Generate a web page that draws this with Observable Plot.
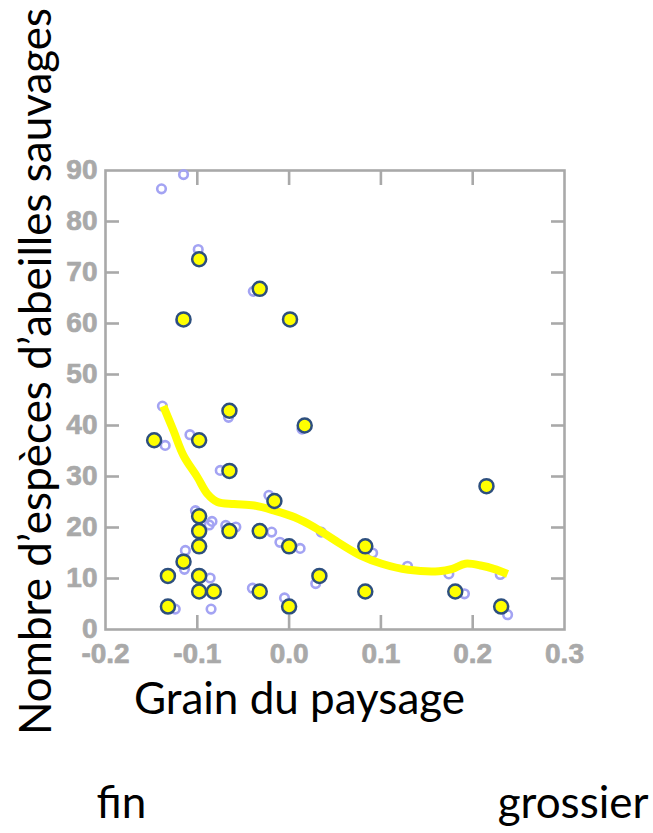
<!DOCTYPE html>
<html>
<head>
<meta charset="utf-8">
<script src="https://cdn.jsdelivr.net/npm/d3@7"></script>
<script src="https://cdn.jsdelivr.net/npm/@observablehq/plot@0.6"></script>
<style>
  body { margin: 0; background: #ffffff; }
  #chart svg { display: block; }
</style>
</head>
<body>
<div id="chart"></div>
<script>
// Highlighted sites (yellow dots)
const yellowGrain   = [-0.147, -0.132, -0.132, -0.115, -0.115, -0.098, -0.098, -0.098, -0.098, -0.098, -0.098, -0.098, -0.082, -0.065, -0.065, -0.065, -0.032, -0.032, -0.032, -0.016, 0.001, 0.000, 0.000, 0.017, 0.033, 0.083, 0.083, 0.181, 0.215, 0.231];
const yellowSpecies = [37.1, 10.5, 4.5, 60.8, 13.3, 72.6, 37.1, 22.2, 19.3, 16.3, 10.5, 7.45, 7.45, 42.9, 31.1, 19.3, 66.8, 19.3, 7.45, 25.2, 60.8, 16.3, 4.5, 40.0, 10.5, 16.3, 7.45, 7.45, 28.1, 4.5];

// Background sites (light blue open circles)
const blueGrain   = [-0.139, -0.115, -0.099, -0.039, -0.118, -0.138, -0.066, 0.014, -0.135, -0.108, -0.075, -0.022, -0.102, -0.084, -0.087, -0.069, -0.058, -0.019, -0.010, 0.012, 0.035, -0.113, -0.114, -0.086, -0.040, -0.005, -0.124, -0.085, 0.029, 0.091, 0.129, 0.174, 0.191, 0.230, 0.238];
const blueSpecies = [86.4, 89.2, 74.5, 66.3, 60.5, 43.8, 41.6, 39.3, 36.1, 38.2, 31.2, 26.3, 23.3, 21.2, 20.5, 20.4, 20.1, 19.1, 17.1, 15.9, 19.1, 15.5, 11.8, 10.1, 8.1, 6.2, 4.0, 4.0, 9.0, 15.0, 12.4, 10.9, 7.0, 10.8, 2.9];

// Smoothed trend (yellow curve)
const trendGrain   = [-0.137, -0.126, -0.115, -0.100, -0.089, -0.078, -0.060, -0.038, -0.016, 0.006, 0.027, 0.056, 0.078, 0.101, 0.130, 0.163, 0.178, 0.192, 0.210, 0.223, 0.238];
const trendSpecies = [43.8, 39.0, 34.1, 29.9, 26.6, 25.0, 24.6, 24.3, 23.3, 22.0, 20.1, 16.8, 14.5, 12.9, 11.7, 11.4, 11.9, 12.9, 12.5, 11.9, 10.9];

// Tick values
const xTickLabels = [-0.2, -0.1, 0.0, 0.1, 0.2, 0.3];
const xTickMarks  = [-0.1, 0.0, 0.1, 0.2];
const yTickLabels = [0, 10, 20, 30, 40, 50, 60, 70, 80, 90];
const yTickMarks  = [10, 20, 30, 40, 50, 60, 70, 80];

// Texts
const yTitle = ["Nombre d’espèces d’abeilles sauvages"];
const xTitle = ["Grain du paysage"];
const leftNote = ["fin"];
const rightNote = ["grossier"];

const yellowPts = yellowGrain.map((g, i) => ({grain: g, species: yellowSpecies[i]}));
const bluePts = blueGrain.map((g, i) => ({grain: g, species: blueSpecies[i]}));
const trend = trendGrain.map((g, i) => ({grain: g, species: trendSpecies[i]}));

const gray = "#a9a9a9";
const titleFont = "Lato";
const tickFont = {fontSize: 28, fontWeight: "bold", fontFamily: "Liberation Sans", fill: gray, stroke: gray, strokeWidth: 0.7};

const chart = Plot.plot({
  width: 653,
  height: 833,
  marginLeft: 105,
  marginRight: 89,
  marginTop: 170,
  marginBottom: 204,
  style: {fontFamily: "Liberation Sans", background: "#ffffff"},
  x: {domain: [-0.2, 0.3], label: null},
  y: {domain: [0, 90], label: null},
  marks: [
    Plot.frame({stroke: gray, strokeWidth: 2.6}),
    // inward tick marks on all four sides
    Plot.axisX({anchor: "bottom", ticks: xTickMarks, tickSize: -14, fill: "none", stroke: gray, strokeWidth: 2.6, label: null}),
    Plot.axisX({anchor: "top", ticks: xTickMarks, tickSize: -14, fill: "none", stroke: gray, strokeWidth: 2.6, label: null}),
    Plot.axisY({anchor: "left", ticks: yTickMarks, tickSize: -14, fill: "none", stroke: gray, strokeWidth: 2.6, label: null}),
    Plot.axisY({anchor: "right", ticks: yTickMarks, tickSize: -14, fill: "none", stroke: gray, strokeWidth: 2.6, label: null}),
    // tick labels
    Plot.text(xTickLabels, {x: d => d, text: d => d.toFixed(1), frameAnchor: "bottom", lineAnchor: "top", textAnchor: "middle", dy: 14, ...tickFont}),
    Plot.text(yTickLabels, {y: d => d, text: d => String(d), frameAnchor: "left", lineAnchor: "middle", textAnchor: "end", dx: -8, ...tickFont}),
    // data
    Plot.dot(bluePts, {x: "grain", y: "species", r: 4.3, stroke: "#a3a3f3", strokeWidth: 2.6, fill: "none"}),
    Plot.line(trend, {x: "grain", y: "species", stroke: "#ffff00", strokeWidth: 8, curve: "catmull-rom", strokeLinecap: "butt"}),
    Plot.dot(yellowPts, {x: "grain", y: "species", r: 7, fill: "#ffff00", stroke: "#2d4f7e", strokeWidth: 2.5}),
    // titles
    Plot.text(yTitle, {text: d => d, frameAnchor: "left", rotate: -90, dx: -55, dy: -28.5, lineAnchor: "bottom", textAnchor: "middle", fontSize: 44, fontFamily: titleFont, fill: "#000"}),
    Plot.text(xTitle, {text: d => d, frameAnchor: "bottom", dx: -35.5, dy: 84, lineAnchor: "bottom", textAnchor: "middle", fontSize: 44, fontFamily: titleFont, fill: "#000"}),
    Plot.text(leftNote, {text: d => d, frameAnchor: "bottom-left", dx: -9, dy: 188, lineAnchor: "bottom", textAnchor: "start", fontSize: 44, fontFamily: titleFont, fill: "#000"}),
    Plot.text(rightNote, {text: d => d, frameAnchor: "bottom-right", dx: 84, dy: 188, lineAnchor: "bottom", textAnchor: "end", fontSize: 44, fontFamily: titleFont, fill: "#000"})
  ]
});

document.getElementById("chart").appendChild(chart);
</script>
</body>
</html>
